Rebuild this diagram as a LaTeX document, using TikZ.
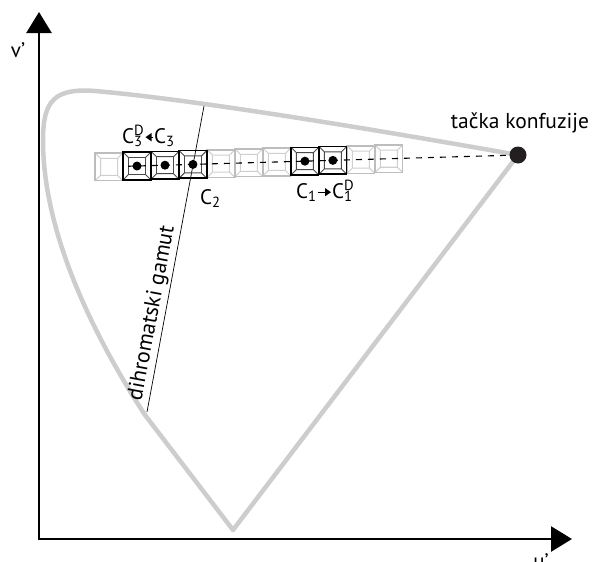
\documentclass[tikz,border=0pt]{standalone}
\usepackage{fontspec}
\setmainfont{PT Sans}
\usetikzlibrary{arrows.meta}
\definecolor{gamutgray}{HTML}{CDCDCD}
\definecolor{sqlightc}{HTML}{BDBDBD}
\definecolor{sqlightic}{HTML}{CFCFCF}
\definecolor{sqdarkic}{HTML}{4A4A4A}
\definecolor{dotblack}{HTML}{231F20}
\newcommand{\mycsd}[1]{C\rlap{\textsubscript{#1}}\textsuperscript{D}}
\tikzset{
  gamut/.style={draw=gamutgray, line width=4.5pt, line join=round},
  axis/.style={line width=2.5pt, -{Triangle[length=21pt,width=25pt]}},
  lbl/.style={inner sep=0pt, font=\fontsize{21}{25}\selectfont},
  dot/.style={circle, fill=black, inner sep=0pt, minimum size=9pt},
  confdot/.style={circle, fill=dotblack, inner sep=0pt, minimum size=17pt},
  dashline/.style={line width=1.1pt, dash pattern=on 6pt off 6pt},
  gamutline/.style={line width=0.7pt},
  lblarrow/.style={line width=1.3pt, -{Triangle[length=6pt,width=8pt]}, shorten >=1pt, shorten <=1pt},
  sqlightout/.style={draw=sqlightc, line width=1.5pt},
  sqlightin/.style={draw=sqlightic, line width=1pt},
  sqdarkout/.style={draw=black, line width=1.5pt},
  sqdarkin/.style={draw=sqdarkic, line width=0.9pt},
  lightsq/.pic={
    \draw[sqlightin] (-8.5,-8.5) rectangle (8.5,8.5)
      (-13.8,-13.8) -- (-8.5,-8.5) (13.8,-13.8) -- (8.5,-8.5)
      (13.8,13.8) -- (8.5,8.5) (-13.8,13.8) -- (-8.5,8.5);
    \draw[sqlightout] (-13.8,-13.8) rectangle (13.8,13.8);
  },
  darksq/.pic={
    \draw[sqdarkin] (-8.5,-8.5) rectangle (8.5,8.5)
      (-13.8,-13.8) -- (-8.5,-8.5) (13.8,-13.8) -- (8.5,-8.5)
      (13.8,13.8) -- (8.5,8.5) (-13.8,13.8) -- (-8.5,8.5);
    \draw[sqdarkout] (-13.8,-13.8) rectangle (13.8,13.8);
  }
}
\begin{document}
\begin{tikzpicture}[x=1pt,y=-1pt]
\useasboundingbox (0,0) rectangle (605,562);
% gamut
\draw[gamut] (518,155) .. controls (400,134) and (200,100) .. (95,91)
  .. controls (55,88) and (43,100) .. (43,140)
  .. controls (43,230) and (90,330) .. (145,415) -- (233,530) -- cycle;
% axes
\coordinate (O) at (39,539);
\coordinate (ytip) at (39,12);
\coordinate (xtip) at (572,539);
\draw[axis] ([yshift=-1.25pt]O) -- (ytip);
\draw[axis] ([xshift=-1.25pt]O) -- (xtip);
\node[lbl, anchor=base] (vlab) at (18,57) {v’};
\node[lbl, anchor=base] (ulab) at (541,568) {u’};
% dichromatic gamut line
\coordinate (g1) at (204,106);
\coordinate (g2) at (147,412);
\draw[gamutline] (g1) -- (g2);
\path (g1) -- (g2) coordinate[pos=0.685] (gmid);
\node[lbl, rotate=79.4, anchor=south, inner sep=2.5pt, font=\fontsize{22}{26}\selectfont] (glab) at (gmid) {dihromatski gamut};
% confusion point
\node[confdot] (conf) at (518,155) {};
% row of colour squares
\begin{scope}[shift={(137,166)}, rotate=1.65]
  \foreach \k in {-28,84,112,140,224,252} { \pic at (\k,0) {lightsq}; }
  \foreach \k in {0,28,56,168,196} { \pic at (\k,0) {darksq}; }
  \coordinate (dstart) at (-9,0);
  \draw[dashline] (dstart) -- (conf);
  \node[dot] (d1) at (0,0) {};
  \node[dot] (d2) at (28,0) {};
  \node[dot] (d3) at (56,0) {};
  \node[dot] (d4) at (168,0) {};
  \node[dot] (d5) at (196,0) {};
\end{scope}
% labels
\node[lbl, anchor=base, font=\fontsize{21.5}{26}\selectfont] (tk) at (520,128) {tačka konfuzije};
\node[lbl, anchor=base west] (c3d) at (122,143) {\mycsd{3}};
\node[lbl, anchor=base west] (c3) at (154,143) {C\textsubscript{3}};
\draw[lblarrow] (c3.west) -- (c3.west -| c3d.east);
\node[lbl, anchor=base west] (c2) at (200,204) {C\textsubscript{2}};
\node[lbl, anchor=base west] (c1) at (296,198) {C\textsubscript{1}};
\node[lbl, anchor=base west] (c1d) at (332,198) {\mycsd{1}};
\draw[lblarrow] (c1.east) -- (c1.east -| c1d.west);
\end{tikzpicture}
\end{document}
